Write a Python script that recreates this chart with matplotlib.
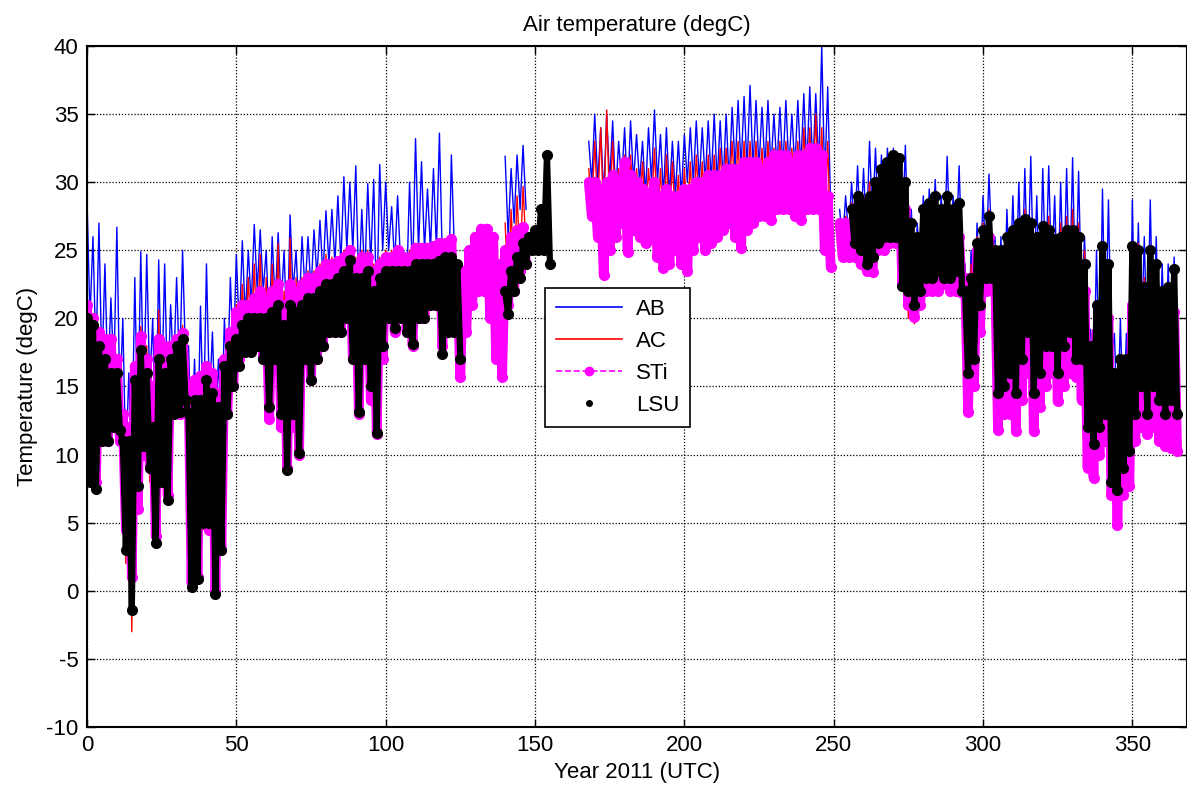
import numpy as np
import matplotlib
matplotlib.use("Agg")
import matplotlib.pyplot as plt
from matplotlib.lines import Line2D

plt.rcParams['font.family'] = ['Liberation Sans', 'DejaVu Sans']
plt.rcParams['axes.unicode_minus'] = False

nan = np.nan

# day of year, every second day (daily high read at d, daily low at d+1)
day = np.arange(0, 366, 2)

# AB station: daily high / low (degC)
ab_hi = [28.8, 26, 27, 24, 21.5, 26.7, 20, 16, 23, 24.9,
         24.7, 20, 24.3, 24, 21, 23, 25, 18, 17, 20.9,
         24, 19, 17, 20, 23, 24.7, 25.7, 25, 26.9, 26.5,
         25, 26, 26.3, 25, 27.6, 25, 26, 26, 26.5, 27.2,
         27.9, 28, 29, 30.4, 30, 31.2, 28, 29.9, 30.2, 31.3,
         30, 28.2, 29, 25, 30, 33.2, 31.5, 29.5, 31, 33.6,
         25, 32, nan, nan, nan, nan, nan, nan, nan, nan,
         31.9, 31, 32, 32.7, nan, nan, nan, nan, nan, nan,
         nan, nan, nan, nan, 33, 35, 34, 35, 34.5, 33,
         34, 34.5, 33.5, 33, 34, 35.3, 33.5, 34, 33, 33,
         33.5, 34, 34.5, 34, 34.5, 35, 34.5, 35, 35.5, 36,
         36.3, 37.1, 36, 35.5, 36, 35, 35.5, 36, 35, 36,
         36.5, 37, 36.5, 40, 37, nan, 28, 29, 30, 31.2,
         31, 33, 32.5, 32, 32.5, 32.5, 32, 32.7, 28, 27,
         29, 29.5, 30.2, 29, 31.9, 29, 31.2, 24, 25, 27,
         29, 30.6, 26, 26, 28, 29, 30, 31, 31.9, 29,
         31, 31.2, 29, 30, 31, 31.8, 30.8, 26, 19.2, 25,
         29.5, 28.7, 18.9, 20, 18.9, 28.7, 27, 26, 28.7, 26,
         24, 24, 24.5]
ab_lo = [20, 17, 16, 15, 16, 14, 9, 9, 12, 14,
         15, 10, 14, 14, 16, 16, 17, 10, 10, 12,
         14, 12, 11, 15, 17, 19, 20, 21, 22, 22,
         19, 21, 21, 18, 22, 20, 22, 22, 23, 23,
         24, 24, 24, 25, 25, 22, 23, 24, 20, 25,
         25, 24, 24, 22, 23, 25, 25, 25, 25, 24,
         21, 25, nan, nan, nan, nan, nan, nan, nan, nan,
         26, 27, 28, 28, nan, nan, nan, nan, nan, nan,
         nan, nan, nan, nan, 30, 30, 29, 30, 29, 30,
         29, 30, 30, 29, 30, 30, 29, 29, 29, 29,
         30, 30, 30, 30, 30, 30, 30, 30, 31, 31,
         31, 31, 31, 31, 31, 31, 31, 31, 31, 31,
         31, 31, 31, 30, 28, nan, 25.5, 26, 26, 26,
         26, 27, 27, 27, 27, 27, 26, 24, 22, 23,
         24, 25, 25, 25, 25, 25, 24, 17, 19, 22,
         24, 25, 20, 20, 22, 22, 22, 23, 22, 21,
         23, 23, 21, 22, 22, 21, 21, 18, 14, 15,
         18, 17, 12, 12, 12, 17, 18, 17, 18, 17,
         16, 16, 17]

# AC station
ac_hi = [20.5, 19, 18.5, 18, 18, 16, 12, 11, 16, 19.4,
         18, 14, 20.6, 18, 17, 18, 19.5, 14, 14, 16,
         16.5, 15, 14, 17, 19, 21, 22.5, 23, 24, 24.7,
         23, 24, 25.5, 22, 25.9, 23, 23, 23.5, 23.5, 24,
         24.7, 24.5, 24.5, 25, 25, 24.5, 25, 25, 24, 24.5,
         25, 25, 25, 24.5, 25, 25.5, 25.5, 25.5, 25.5, 25.5,
         25, 26, nan, nan, nan, nan, nan, nan, nan, nan,
         27, 28, 29, 29.7, nan, nan, nan, nan, nan, nan,
         nan, nan, nan, nan, 31, 33, 34, 35.3, 33, 31,
         32, 32, 31, 31.5, 31, 32.5, 31, 32, 31.5, 30.5,
         31, 31.5, 32, 31.5, 32, 32, 32.5, 32.5, 33, 33,
         33, 33, 33, 32.5, 33, 32.5, 33, 33, 32.5, 33,
         34, 34, 35, 34, 33, nan, 27, 27.5, 28.5, 29,
         29, 30, 30, 30.5, 31, 31, 31, 29, 27, 26,
         27, 28, 28, 27.5, 28.5, 27.5, 28, 23, 24, 26,
         27, 28, 25, 25, 26, 26, 27, 28, 27, 26,
         27, 27.5, 26, 27, 27.5, 28, 27, 25, 18, 21,
         24, 24, 16, 17, 17, 25.5, 25.5, 23, 24, 23,
         22, 22, 23]
ac_lo = [10, 8, 11, 11, 12, 10, 2, -3, 6, 10,
         8, 3.3, 8, 6.5, 13, 13, 14, 0.3, 1, 4.5,
         4.5, -0.2, 3, 13, 15, 17, 18, 18, 18, 17,
         13, 17, 14, 9, 14, 10, 17, 16, 17, 18,
         19, 19, 19, 20, 17, 13, 17, 15, 12, 18,
         20, 19, 20, 19, 18, 20, 20, 21, 21, 19,
         19, 19, nan, nan, nan, nan, nan, nan, nan, nan,
         22, 23, 24, 25, nan, nan, nan, nan, nan, nan,
         nan, nan, nan, nan, 28, 28, 27, 28, 28, 28,
         26, 28, 28, 27, 28, 27, 26, 27, 27, 26,
         27, 27, 28, 27, 28, 28, 28, 29, 29, 28,
         29, 29, 29, 29, 29, 29, 29, 29, 28, 28,
         29, 29, 29, 27, 25, nan, 25, 25, 25, 25,
         24.5, 25, 26, 26, 26, 26, 23, 20, 19.6, 21,
         22, 23, 23, 23, 23, 23, 22, 14, 15, 20,
         22, 23, 13, 14, 15, 13, 16, 18, 13, 15,
         17, 17, 15, 17, 18, 16, 16, 11, 9, 11,
         13, 10, 5, 7, 8, 12, 13, 12, 13, 12,
         11, 11, 11]

# STi station
sti_hi = [21, 20, 19, 18.5, 18.5, 17, 13, 12, 16.5, 18.7,
          17, 15, 18.5, 18, 18, 18.5, 18.9, 15, 15.5, 15.8,
          16.5, 16, 14.5, 17, 19, 20.5, 21, 21, 21.5, 22,
          21.5, 22, 22.5, 21, 22.5, 22, 22.5, 23, 23, 23.5,
          24, 24, 24.2, 24.5, 25, 24, 24.5, 24.5, 23.5, 24,
          24.5, 24.5, 25, 24.5, 24.5, 25.2, 25.2, 25.2, 25.3, 25.5,
          25.5, 25.8, 22.5, 23.5, 25, 26, 26.6, 26.6, 26, 24,
          25, 26, 26.5, 26.7, nan, nan, nan, nan, nan, nan,
          nan, nan, nan, nan, 30, 30, 29.5, 30, 30.5, 30,
          31.5, 30.5, 30, 29.5, 29, 30, 29, 29.5, 29, 29,
          29.5, 29.5, 30, 30, 30.5, 30.5, 30.5, 31, 31, 31,
          31.5, 31.5, 31.5, 31, 31.5, 32, 32, 32, 31.5, 32,
          32, 32.5, 32.5, 32, 29, nan, 27, 27, 27, 27,
          27, 27.5, 28, 28.5, 29, 29.5, 29.5, 28, 26, 25,
          26, 26, 26, 25.5, 26, 25.5, 26, 23, 23, 25,
          25.5, 26, 24, 24, 24.5, 24, 25, 25.5, 25, 24.5,
          25, 25, 24, 24.5, 25, 25, 24, 22, 17, 19,
          21, 20, 15, 15, 15, 21, 21.5, 21, 21.5, 21,
          20, 20, 20.5]
sti_lo = [9, 8, 11, 11, 12, 11, 4.5, 1, 6, 10,
          9, 4, 8, 7, 13, 13, 14, 0.5, 1, 5,
          4.5, 0, 3, 13, 15, 17, 18, 18, 18, 17,
          12.6, 17, 12, 9, 12, 10, 17, 15.5, 17, 18,
          19, 19, 19, 20, 17, 13, 17, 14, 11.5, 17,
          20, 19, 20, 19, 18, 20, 20, 21, 21, 18,
          19, 19, 15.7, 19, 21, 22, 22, 20, 17, 15.7,
          21, 22, 23.5, 24, nan, nan, nan, nan, nan, nan,
          nan, nan, nan, nan, 27.5, 26, 23.2, 25, 26, 27,
          24.9, 26.5, 26, 25.5, 26, 24.5, 23.7, 24, 25, 24,
          23.5, 25, 26, 25, 25.5, 26, 26.5, 27, 26, 25.2,
          26.5, 27, 27.5, 27.5, 27.2, 28, 28, 28, 27.5, 27.2,
          28, 28, 28, 25, 23.8, nan, 24.5, 24.5, 24.5, 24,
          23.5, 23.4, 25, 25, 25.5, 25.5, 22.5, 21, 20.1, 21,
          22, 22, 22, 22.5, 22, 22, 21.9, 13.1, 15, 19,
          22, 22, 11.8, 13, 13, 11.7, 14, 16, 11.7, 13.5,
          15, 16, 13.9, 15, 16, 15.7, 14, 9, 8.3, 10,
          11, 7, 4.8, 7, 7.7, 11, 12, 11.5, 12, 11,
          10.6, 10.5, 10.3]

# LSU station
lsu_hi = [20, 19.5, 18, 17, 16, 16, 11, 11, 15.5, 17.7,
          16, 12, 17, 16, 17, 18, 18.5, 13, 14, 14,
          15.5, 14.5, 13.5, 16.5, 18, 18.5, 19.5, 20, 20, 20,
          20, 20.5, 21, 19.5, 21, 20.5, 21, 21.5, 21.5, 22,
          22.5, 22.5, 23, 23.5, 24.3, 23, 23, 23.5, 22, 23,
          23.5, 23.5, 23.5, 23.5, 23.5, 24, 24, 24, 24, 24.2,
          24.5, 24.5, 24, nan, nan, nan, nan, nan, nan, nan,
          22, 23.5, 24.5, 25.5, 26, 26.5, 28, 32, nan, nan,
          nan, nan, nan, nan, nan, nan, nan, nan, nan, nan,
          nan, nan, nan, nan, nan, nan, nan, nan, nan, nan,
          nan, nan, nan, nan, nan, nan, nan, nan, nan, nan,
          nan, nan, nan, nan, nan, nan, nan, nan, nan, nan,
          nan, nan, nan, nan, nan, nan, nan, nan, 28, 29,
          28.5, 29, 30, 31, 31.5, 32, 31.8, 30, 27, 26,
          28, 28.5, 29, 28, 29, 28, 28.5, 22, 23, 25.5,
          26.5, 27.5, 25, 25, 26, 26.5, 27, 27.3, 27, 26,
          26.8, 26.5, 25.8, 26, 26.5, 26.5, 26, 24, 18, 21,
          25.3, 24, 16, 17, 17, 25.3, 25, 22.3, 25, 24,
          22, 22.3, 23.6]
lsu_lo = [8, 7.5, 11, 11, 12, 11.8, 3, -1.4, 7.7, 10.6,
          9, 3.5, 8, 6.7, 13, 13.1, 14, 0.3, 0.9, 5,
          5, -0.2, 3, 13, 15, 16.5, 17.5, 17.5, 18, 17,
          13.5, 17, 13, 8.9, 13, 10.1, 17, 15.5, 17, 18,
          19, 19, 19, 20, 17, 13.1, 17, 15, 11.6, 18,
          20, 19.3, 20, 19, 18.1, 20, 20, 21, 21, 17.4,
          19, 19, 17, nan, nan, nan, nan, nan, nan, nan,
          20.3, 22, 23, 24, 25, 25, 25, 24, nan, nan,
          nan, nan, nan, nan, nan, nan, nan, nan, nan, nan,
          nan, nan, nan, nan, nan, nan, nan, nan, nan, nan,
          nan, nan, nan, nan, nan, nan, nan, nan, nan, nan,
          nan, nan, nan, nan, nan, nan, nan, nan, nan, nan,
          nan, nan, nan, nan, nan, nan, nan, nan, 25.5, 25,
          24, 24.5, 25.5, 26, 26, 26, 22.4, 22, 21, 22,
          23, 23, 23.5, 23, 23, 23.5, 22, 16, 17, 21,
          23, 23, 14.5, 15, 16, 14.5, 17, 19, 14.5, 16,
          18, 18, 16, 18, 19, 17, 17, 12, 10.8, 12,
          13, 8, 7.4, 9, 10.3, 13, 15, 13, 15, 14,
          13, 14, 13]


def zigzag(hi, lo):
    # high at day d, low at day d+1
    x = np.column_stack([day, day + 1]).ravel()
    y = np.column_stack([np.asarray(hi, float), np.asarray(lo, float)]).ravel()
    return x, y


fig = plt.figure(figsize=(11.87, 7.91), dpi=100)
ax = fig.add_axes([87 / 1187, 64 / 791, 1100 / 1187, 681 / 791])

x, y = zigzag(ab_hi, ab_lo)
ax.plot(x, y, color='#0000ff', lw=1.0)
x, y = zigzag(ac_hi, ac_lo)
ax.plot(x, y, color='#ff0000', lw=1.0)
x, y = zigzag(sti_hi, sti_lo)
ax.plot(x, y, color='#ff00ff', lw=7, solid_joinstyle='round', solid_capstyle='round')
ax.plot(x, y, color='#ff00ff', lw=1.0, ls='--', marker='o', ms=7)
x, y = zigzag(lsu_hi, lsu_lo)
ax.plot(x, y, color='black', lw=4.5, solid_joinstyle='round', solid_capstyle='round')
ax.plot(x, y, color='black', lw=0, marker='o', ms=7)

ax.set_xlim(0, 368.3)
ax.set_ylim(-10, 40)
ax.set_xticks(np.arange(0, 351, 50))
ax.set_yticks(np.arange(-10, 41, 5))
ax.tick_params(direction='in', top=True, right=True, length=6, width=1,
               labelsize=16, pad=6)
ax.grid(True, color='black', ls=(0, (1, 1.5)), lw=0.9)
for s in ax.spines.values():
    s.set_linewidth(1.5)

ax.set_title('Air temperature (degC)', fontsize=16, pad=11)
ax.set_xlabel('Year 2011 (UTC)', fontsize=16, labelpad=4)
ax.set_ylabel('Temperature (degC)', fontsize=16, labelpad=6)

handles = [Line2D([], [], color='#0000ff', lw=1.2),
           Line2D([], [], color='#ff0000', lw=1.2),
           Line2D([], [], color='#ff00ff', lw=1.2, ls='--', marker='o', ms=6),
           Line2D([], [], color='black', lw=0, marker='o', ms=4)]
leg = ax.legend(handles, ['AB', 'AC', 'STi', 'LSU'], loc='upper left',
                bbox_to_anchor=(0.416, 0.645), fontsize=16, frameon=True,
                fancybox=False, framealpha=1, edgecolor='black',
                handlelength=3.0, labelspacing=0.5, borderpad=0.5,
                handletextpad=0.6, borderaxespad=0)
leg.get_frame().set_linewidth(1.2)

fig.savefig('out.png', dpi=100)
